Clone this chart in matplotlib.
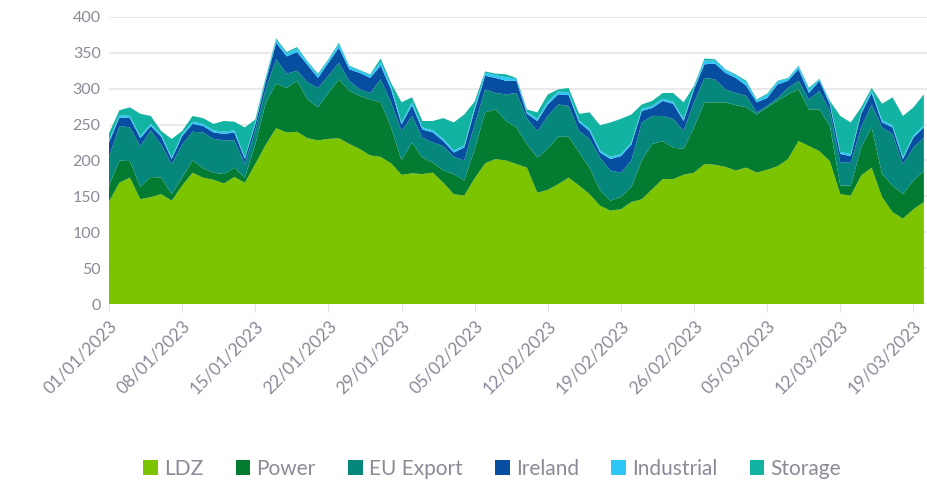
import matplotlib
matplotlib.use("Agg")
import matplotlib.pyplot as plt
import pandas as pd

# daily demand by sector, 01/01/2023 onwards
ldz = [143, 169, 176, 146, 149, 153, 144, 165, 183, 176, 173, 168, 177, 169, 195, 222,
       245, 239, 240, 231, 228, 230, 231, 223, 216, 207, 205, 196, 180, 182, 181, 183,
       169, 153, 151, 175, 196, 202, 200, 195, 190, 155, 159, 167, 176, 165, 153, 137,
       130, 132, 142, 146, 160, 174, 174, 180, 183, 195, 194, 191, 186, 190, 183, 187,
       192, 202, 227, 220, 213, 199, 153, 151, 179, 190, 149, 128, 119, 132, 142]
power = [22, 31, 23, 17, 28, 23, 9, 11, 17, 13, 10, 13, 13, 7, 27, 58,
         62, 62, 71, 54, 46, 64, 82, 74, 74, 78, 76, 50, 20, 43, 23, 14,
         17, 28, 21, 40, 71, 69, 55, 51, 33, 49, 57, 66, 57, 46, 37, 21,
         14, 17, 21, 54, 63, 53, 44, 36, 63, 86, 87, 90, 91, 84, 81, 87,
         91, 90, 72, 51, 58, 49, 12, 14, 39, 56, 32, 37, 34, 40, 43]
eu_export = [40, 48, 47, 57, 65, 46, 42, 46, 40, 50, 47, 47, 38, 19, 20, 20,
             34, 20, 14, 24, 27, 24, 23, 14, 9, 9, 32, 35, 41, 37, 28, 28,
             34, 24, 28, 35, 32, 23, 37, 48, 36, 37, 46, 45, 43, 30, 40, 46,
             42, 34, 37, 53, 39, 35, 40, 25, 35, 34, 32, 18, 17, 16, 3, 2,
             4, 9, 12, 14, 26, 21, 32, 32, 28, 32, 65, 72, 42, 46, 47]
ireland = [20, 12, 13, 11, 6, 11, 7, 12, 11, 9, 9, 9, 11, 7, 8, 10,
           23, 24, 26, 24, 14, 18, 21, 16, 23, 21, 19, 18, 9, 15, 11, 14,
           7, 6, 18, 20, 19, 21, 19, 17, 6, 14, 16, 14, 15, 12, 11, 7,
           16, 23, 22, 16, 11, 21, 21, 14, 18, 19, 22, 23, 21, 14, 14, 11,
           19, 10, 16, 9, 14, 9, 12, 9, 19, 16, 7, 9, 7, 14, 14]
industrial = [3, 3, 3, 3, 3, 3, 2, 3, 3, 3, 3, 3, 3, 2, 3, 3,
              4, 4, 5, 4, 4, 4, 5, 4, 3, 4, 5, 5, 3, 4, 3, 3,
              3, 3, 3, 4, 4, 4, 5, 3, 3, 3, 4, 4, 4, 3, 3, 3,
              3, 3, 3, 3, 3, 3, 3, 3, 3, 5, 4, 4, 4, 5, 3, 4,
              4, 3, 4, 4, 3, 3, 3, 3, 3, 4, 3, 3, 3, 3, 3]
storage = [10, 7, 12, 31, 11, 5, 26, 4, 8, 8, 9, 15, 12, 42, 4, 3,
           2, 2, 2, 1, 2, 1, 2, 1, 1, 1, 5, 4, 28, 7, 9, 13,
           29, 39, 43, 8, 2, 2, 4, 1, 3, 9, 10, 3, 6, 9, 23, 35,
           48, 49, 39, 6, 7, 8, 12, 23, 2, 3, 2, 1, 1, 2, 1, 2,
           1, 1, 1, 3, 0, 2, 50, 44, 6, 3, 23, 39, 57, 39, 43]

labels = ["LDZ", "Power", "EU Export", "Ireland", "Industrial", "Storage"]
colors = ["#7dc400", "#037b30", "#05877b", "#074ea0", "#2ec6f5", "#12b3a2"]

dates = pd.date_range("2023-01-01", periods=len(ldz), freq="D")

plt.rcParams["font.family"] = ["Lato", "DejaVu Sans"]
txt = "#8a8a98"

fig = plt.figure(figsize=(9.27, 4.83), dpi=100)
ax = fig.add_axes([0.1176, 0.3706, 0.8824, 0.5944])

ax.stackplot(dates, ldz, power, eu_export, ireland, industrial, storage,
             labels=labels, colors=colors, linewidth=0)

ax.set_ylim(0, 400)
ax.set_xlim(dates[0], dates[0] + pd.Timedelta(days=78.3))
ax.set_yticks(range(0, 401, 50))
ax.yaxis.grid(True, color="#e6e6e6", linewidth=1.2)
ax.set_axisbelow(True)
for s in ax.spines.values():
    s.set_visible(False)

ticks = dates[::7]
ax.set_xticks(ticks)
ax.set_xticklabels([d.strftime("%d/%m/%Y") for d in ticks], rotation=45,
                   ha="right", va="top", rotation_mode="anchor")
ax.tick_params(axis="x", colors=txt, labelsize=12.5, length=6, color="#e0e0e0", pad=4)
ax.tick_params(axis="y", colors=txt, labelsize=11.5, length=0, pad=6)

fig.legend(loc="center", bbox_to_anchor=(0.531, 0.03), ncol=6, frameon=False,
           fontsize=15, handlelength=0.7, handleheight=0.7, handletextpad=0.3,
           columnspacing=1.55, labelcolor=txt)

fig.savefig("out.png", dpi=100)
